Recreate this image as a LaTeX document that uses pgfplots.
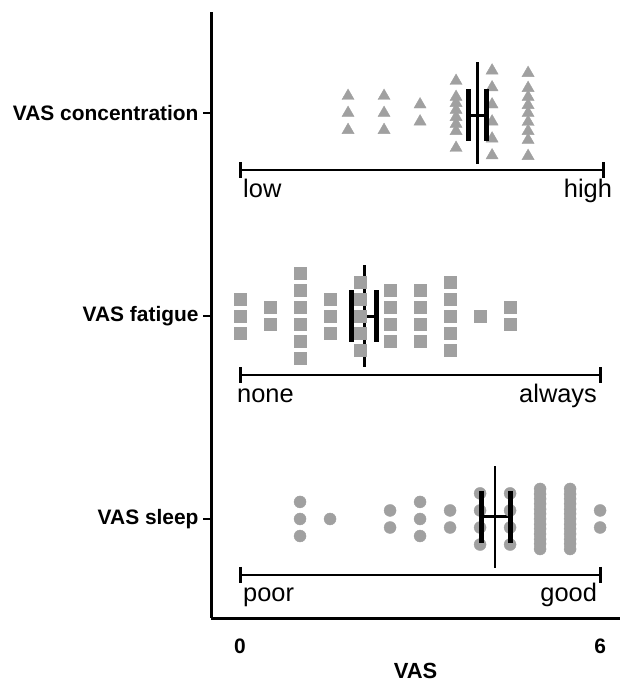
\documentclass[border=0pt]{standalone}
\usepackage{fontspec}
\setmainfont{Liberation Sans}
\usepackage{pgfplots}
\pgfplotsset{compat=1.18}
\definecolor{dotgray}{RGB}{160,160,160}

\begin{document}
\begin{tikzpicture}
\begin{axis}[
  scale only axis, width=409bp, height=606bp,
  xmin=-0.483, xmax=6.333, ymin=0.512, ymax=3.498,
  axis x line*=bottom, axis y line*=left,
  axis line style={line width=3bp, -},
  xtick={0,6}, ytick={1,2,3},
  yticklabels={VAS sleep, VAS fatigue, VAS concentration},
  x tick style={draw=none},
  y tick style={line width=2.5bp, black},
  tick align=outside, major tick length=8bp,
  /pgf/number format/assume math mode=true,
  xticklabel style={font=\fontsize{21}{24}\selectfont\bfseries, yshift=-9bp},
  yticklabel style={font=\fontsize{21}{24}\selectfont\bfseries, xshift=-1bp},
  xlabel={VAS}, xlabel style={font=\fontsize{22}{26}\selectfont\bfseries, yshift=-3bp},
  clip=false,
]
% page frame, same as the 626x685 reference
\path (axis cs:-4,3.557) rectangle (axis cs:6.433,0.182);

% concentration
\addplot[only marks, mark=triangle*, mark size=7bp, color=dotgray] coordinates {
  (1.8,3.084) (1.8,3) (1.8,2.916)
  (2.4,3.084) (2.4,3) (2.4,2.916)
  (3.0,3.042) (3.0,2.958)
  (3.6,3.158) (3.6,3.079) (3.6,3.049) (3.6,3.015) (3.6,2.980) (3.6,2.946) (3.6,2.911) (3.6,2.828)
  (4.2,3.209) (4.2,3.126) (4.2,3.042) (4.2,2.958) (4.2,2.874) (4.2,2.791)
  (4.8,3.197) (4.8,3.123) (4.8,3.079) (4.8,3.039) (4.8,3.0) (4.8,2.956) (4.8,2.911) (4.8,2.867) (4.8,2.788)
};
% fatigue
\addplot[only marks, mark=square*, mark size=6bp, color=dotgray] coordinates {
  (0,2.084) (0,2) (0,1.916)
  (0.5,2.042) (0.5,1.958)
  (1.0,2.209) (1.0,2.126) (1.0,2.042) (1.0,1.958) (1.0,1.874) (1.0,1.791)
  (1.5,2.084) (1.5,2) (1.5,1.916)
  (2.0,2.167) (2.0,2.084) (2.0,2) (2.0,1.916) (2.0,1.833)
  (2.5,2.126) (2.5,2.042) (2.5,1.958) (2.5,1.874)
  (3.0,2.126) (3.0,2.042) (3.0,1.958) (3.0,1.874)
  (3.5,2.167) (3.5,2.084) (3.5,2) (3.5,1.916) (3.5,1.833)
  (4.0,2)
  (4.5,2.042) (4.5,1.958)
};
% sleep
\addplot[only marks, mark=*, mark size=6bp, color=dotgray] coordinates {
  (1.0,1.084) (1.0,1) (1.0,0.916)
  (1.5,1)
  (2.5,1.042) (2.5,0.958)
  (3.0,1.084) (3.0,1) (3.0,0.916)
  (3.5,1.042) (3.5,0.958)
  (4.0,1.126) (4.0,1.042) (4.0,0.958) (4.0,0.874)
  (4.5,1.126) (4.5,1.042) (4.5,0.958) (4.5,0.874)
  (5.0,1.148) (5.0,1.123) (5.0,1.099) (5.0,1.074) (5.0,1.049) (5.0,1.025) (5.0,1.0)
  (5.0,0.975) (5.0,0.951) (5.0,0.926) (5.0,0.901) (5.0,0.877) (5.0,0.852)
  (5.5,1.148) (5.5,1.123) (5.5,1.099) (5.5,1.074) (5.5,1.049) (5.5,1.025) (5.5,1.0)
  (5.5,0.975) (5.5,0.951) (5.5,0.926) (5.5,0.901) (5.5,0.877) (5.5,0.852)
  (6.0,1.042) (6.0,0.958)
};

% means (long line) and CI (capped bar)
\addplot[black, line width=2.6bp] coordinates {(3.96,3.25) (3.96,2.75)};
\addplot[black, line width=3bp, mark=|, mark size=26bp, mark options={line width=5bp}] coordinates {(3.81,2.99) (4.11,2.99)};
\addplot[black, line width=2.6bp] coordinates {(2.07,2.25) (2.07,1.75)};
\addplot[black, line width=3bp, mark=|, mark size=26bp, mark options={line width=5bp}] coordinates {(1.86,2) (2.28,2)};
\addplot[black, line width=2.6bp] coordinates {(4.25,1.26) (4.25,0.76)};
\addplot[black, line width=3bp, mark=|, mark size=26bp, mark options={line width=5bp}] coordinates {(4.03,1.01) (4.5,1.01)};

% anchor scales under each item
\addplot[black, line width=2.5bp, mark=|, mark size=8bp, mark options={line width=3bp}] coordinates {(0,2.719) (6.05,2.719)};
\addplot[black, line width=2.5bp, mark=|, mark size=8bp, mark options={line width=3bp}] coordinates {(0,1.709) (6,1.709)};
\addplot[black, line width=2.5bp, mark=|, mark size=8bp, mark options={line width=3bp}] coordinates {(0,0.724) (6,0.724)};

\begin{scope}[every node/.style={inner sep=0pt, font=\fontsize{25.5}{30}\selectfont}]
\node[anchor=base west] at (axis cs:0.05,2.586) {low};
\node[anchor=base east] at (axis cs:6.2,2.586) {high};
\node[anchor=base west] at (axis cs:-0.05,1.576) {none};
\node[anchor=base east] at (axis cs:5.95,1.576) {always};
\node[anchor=base west] at (axis cs:0.05,0.591) {poor};
\node[anchor=base east] at (axis cs:5.95,0.591) {good};
\end{scope}
\end{axis}
\end{tikzpicture}
\end{document}
